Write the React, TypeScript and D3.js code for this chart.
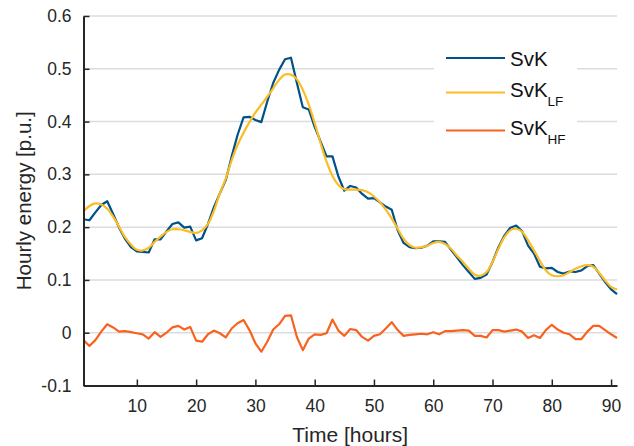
import React, { useEffect, useRef } from "react";
import * as d3 from "d3";

const hours = d3.range(1, 92);

const svk = [
  0.215, 0.213, 0.228, 0.242, 0.249, 0.225, 0.199, 0.178, 0.162, 0.154,
  0.153, 0.152, 0.177, 0.177, 0.192, 0.206, 0.209, 0.199, 0.201, 0.175,
  0.179, 0.206, 0.238, 0.264, 0.289, 0.334, 0.375, 0.408, 0.409, 0.403,
  0.399, 0.438, 0.473, 0.498, 0.518, 0.521, 0.473, 0.427, 0.423, 0.39,
  0.362, 0.334, 0.334, 0.296, 0.269, 0.278, 0.275, 0.263, 0.254, 0.255,
  0.247, 0.239, 0.233, 0.194, 0.17, 0.162, 0.16, 0.161, 0.165, 0.173,
  0.173, 0.172, 0.157, 0.143, 0.128, 0.115, 0.102, 0.104, 0.11, 0.134,
  0.162, 0.184, 0.199, 0.203, 0.192, 0.165, 0.15, 0.125, 0.122, 0.123,
  0.115, 0.112, 0.116, 0.115, 0.118, 0.126, 0.128, 0.112, 0.096, 0.082,
  0.073,
];

const svkLF = [
  0.23, 0.24, 0.245, 0.243, 0.235, 0.22, 0.201, 0.181, 0.167, 0.157,
  0.156, 0.161, 0.172, 0.182, 0.191, 0.196, 0.196, 0.194, 0.191, 0.189,
  0.194, 0.206, 0.231, 0.264, 0.292, 0.327, 0.356, 0.379, 0.399, 0.417,
  0.432, 0.447, 0.463, 0.479, 0.489, 0.489, 0.48, 0.46, 0.432, 0.397,
  0.359, 0.324, 0.297, 0.28, 0.272, 0.271, 0.271, 0.27, 0.266, 0.258,
  0.247, 0.233, 0.216, 0.197, 0.178, 0.166, 0.161, 0.162, 0.165, 0.17,
  0.172, 0.168, 0.159, 0.146, 0.134, 0.121, 0.11, 0.108, 0.115, 0.134,
  0.159, 0.181, 0.194, 0.197, 0.191, 0.175, 0.156, 0.136, 0.118, 0.109,
  0.107, 0.109, 0.115, 0.121, 0.126, 0.128, 0.125, 0.113, 0.099, 0.087,
  0.082,
];

const svkHF = [
  -0.014, -0.025, -0.014, 0.002, 0.016, 0.01, 0.002, 0.003, 0.001, -0.001,
  -0.003, -0.011, 0.001, -0.008, 0.0, 0.01, 0.013, 0.006, 0.011, -0.015,
  -0.017, -0.003, 0.004, -0.001, -0.009, 0.008, 0.018, 0.024, 0.005, -0.02,
  -0.036, -0.017, 0.006, 0.016, 0.032, 0.033, -0.008, -0.033, -0.011, -0.003,
  -0.004, -0.001, 0.025, 0.004, -0.006, 0.007, 0.005, -0.008, -0.015, -0.006,
  -0.003, 0.008, 0.02, 0.005, -0.006, -0.004, -0.003, -0.002, -0.003, 0.001,
  -0.003, 0.003, 0.003, 0.004, 0.005, 0.004, -0.006, -0.006, -0.009, 0.005,
  0.005, 0.002, 0.004, 0.006, 0.002, -0.01, -0.005, -0.01, 0.005, 0.015,
  0.006, 0.0, -0.003, -0.012, -0.012, 0.002, 0.013, 0.013, 0.005, -0.003,
  -0.01,
];

const xTicks = [10, 20, 30, 40, 50, 60, 70, 80, 90];
const yTicks = [-0.1, 0, 0.1, 0.2, 0.3, 0.4, 0.5, 0.6];
const yTickLabels = ["-0.1", "0", "0.1", "0.2", "0.3", "0.4", "0.5", "0.6"];

const seriesNames = ["SvK", "SvK", "SvK"];
const seriesSubs = ["", "LF", "HF"];
const seriesColors = ["#00508a", "#fbbd23", "#f7631f"];

const App = () => {
  const ref = useRef<SVGSVGElement>(null);

  useEffect(() => {
    const width = 634;
    const height = 446;
    const left = 83.5;
    const right = 617;
    const top = 16;
    const bottom = 385.5;
    const font = "'Liberation Sans', Arial, sans-serif";
    const ink = "#262626";

    const svg = d3.select(ref.current);
    svg.selectAll("*").remove();
    svg.attr("width", width).attr("height", height);

    const x = d3.scaleLinear().domain([1, 91]).range([left, right]);
    const y = d3.scaleLinear().domain([-0.1, 0.6]).range([bottom, top]);

    // grid
    svg
      .append("g")
      .selectAll("line")
      .data(yTicks.slice(1))
      .enter()
      .append("line")
      .attr("x1", left)
      .attr("x2", right)
      .attr("y1", (d) => y(d))
      .attr("y2", (d) => y(d))
      .attr("stroke", "#dcdcdc")
      .attr("stroke-width", 1.5);

    const data = [svk, svkLF, svkHF];
    data.forEach((vals, i) => {
      const line = d3
        .line<number>()
        .x((_, j) => x(hours[j]))
        .y((d) => y(d));
      if (i === 1) line.curve(d3.curveCatmullRom);
      svg
        .append("path")
        .datum(vals)
        .attr("d", line)
        .attr("fill", "none")
        .attr("stroke", seriesColors[i])
        .attr("stroke-width", 2.2)
        .attr("stroke-linejoin", "round");
    });

    // axes
    const xAxis = svg
      .append("g")
      .attr("transform", `translate(0,${bottom})`)
      .call(d3.axisBottom(x).tickValues(xTicks).tickSizeInner(-6).tickSizeOuter(0).tickPadding(14));
    const yAxis = svg
      .append("g")
      .attr("transform", `translate(${left},0)`)
      .call(
        d3
          .axisLeft(y)
          .tickValues(yTicks)
          .tickSizeInner(-6)
          .tickSizeOuter(0)
          .tickPadding(12)
          .tickFormat((_, i) => yTickLabels[i])
      );
    [xAxis, yAxis].forEach((g) => {
      g.select(".domain").attr("stroke", ink).attr("stroke-width", 2);
      g.selectAll(".tick line").attr("stroke", ink).attr("stroke-width", 1.5);
      g.selectAll(".tick text")
        .attr("fill", ink)
        .style("font-family", font)
        .style("font-size", "17.5px");
    });

    svg
      .append("text")
      .attr("x", (left + right) / 2)
      .attr("y", 442)
      .attr("text-anchor", "middle")
      .attr("fill", ink)
      .style("font-family", font)
      .style("font-size", "21px")
      .text("Time [hours]");

    svg
      .append("text")
      .attr("transform", `translate(31,${(top + bottom) / 2}) rotate(-90)`)
      .attr("text-anchor", "middle")
      .attr("fill", ink)
      .style("font-family", font)
      .style("font-size", "20.5px")
      .text("Hourly energy [p.u.]");

    // legend
    const leg = svg.append("g");
    leg
      .append("rect")
      .attr("x", 434)
      .attr("y", 36)
      .attr("width", 143)
      .attr("height", 120)
      .attr("fill", "#fff");
    const rowY = [58, 92.5, 130.5];
    const textY = [66, 97, 135];
    seriesNames.forEach((name, i) => {
      leg
        .append("line")
        .attr("x1", 446)
        .attr("x2", 505)
        .attr("y1", rowY[i])
        .attr("y2", rowY[i])
        .attr("stroke", seriesColors[i])
        .attr("stroke-width", 2.2);
      const t = leg
        .append("text")
        .attr("x", 510)
        .attr("y", textY[i])
        .attr("fill", "#111")
        .style("font-family", font)
        .style("font-size", "20.5px")
        .text(name);
      if (seriesSubs[i]) {
        t.append("tspan")
          .attr("dy", 8.8)
          .style("font-size", "13.5px")
          .text(seriesSubs[i]);
      }
    });
  }, []);

  return (
    <svg
      ref={ref}
      style={{ display: "block", position: "absolute", left: 0, top: 0 }}
    />
  );
};

export default App;
